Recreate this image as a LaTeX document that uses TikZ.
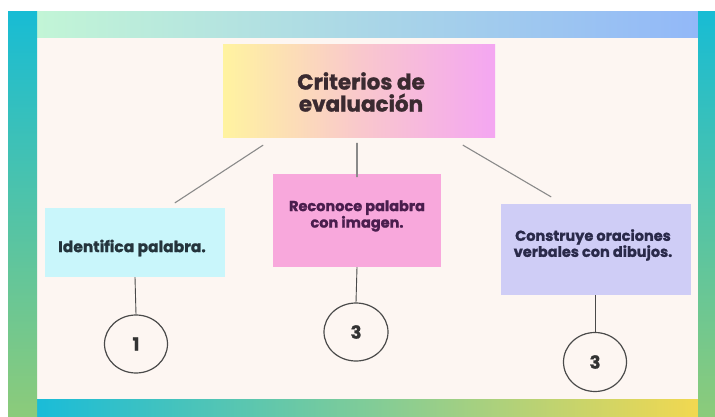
\documentclass[tikz,border=0pt]{standalone}
\usepackage{fontspec}
\setmainfont{Poppins}[BoldFeatures={FakeBold=1.3}]
\usetikzlibrary{calc,shapes.geometric}
\definecolor{cream}{HTML}{FDF6F2}
\definecolor{topL}{HTML}{C2F5D6}
\definecolor{topR}{HTML}{92B8F8}
\definecolor{bordT}{HTML}{18BCD4}
\definecolor{bordB}{HTML}{8CCB7A}
\definecolor{botL}{HTML}{1ABCD8}
\definecolor{botM}{HTML}{80CC98}
\definecolor{botR}{HTML}{F2D850}
\definecolor{critL}{HTML}{FFF3A0}
\definecolor{critM}{HTML}{F9C8CC}
\definecolor{critR}{HTML}{F4A6F2}
\definecolor{idfill}{HTML}{C9F6FB}
\definecolor{recfill}{HTML}{F8A8DC}
\definecolor{confill}{HTML}{CFCDF6}
\definecolor{critT}{HTML}{3A2A30}
\definecolor{idT}{HTML}{24343C}
\definecolor{recT}{HTML}{4A1E4E}
\definecolor{conT}{HTML}{2A2A4A}
\definecolor{linkC}{HTML}{8A8A8A}
\definecolor{circC}{HTML}{4A4A4A}
\tikzset{
  box/.style={rectangle, inner sep=0pt},
  link/.style={draw=linkC, line width=1.1pt, line cap=round},
  stem/.style={draw=circC, line width=0.9pt},
  num/.style={ellipse, draw=circC, line width=1.2pt, inner sep=0pt, font=\bfseries\fontsize{18}{18}\selectfont, text=black!80},
  lbl/.style={align=center, font=\bfseries}
}
\begin{document}
\begin{tikzpicture}[x=1pt,y=1pt]
\useasboundingbox (0,0) rectangle (715,416);
\fill[white] (0,0) rectangle (715,416);
% background and frame
\fill[cream] (37,17) rectangle (698,378);
\shade[left color=topL, right color=topR] (37,378) rectangle (698,404);
\shade[left color=botL, right color=botR, middle color=botM] (37,0) rectangle (698,17);
\shade[top color=bordT, bottom color=bordB] (8,0) rectangle (37,404);
\shade[top color=bordT, bottom color=bordB] (698,0) rectangle (715,404);
% boxes
\node[box, minimum width=272, minimum height=92, left color=critL, right color=critR, middle color=critM] (crit) at (359,325) {};
\node[lbl, text=critT, font=\bfseries\fontsize{21.5}{22}\selectfont] (critt) at (361,324) {Criterios de\\evaluación};
\node[box, fill=idfill, minimum width=180, minimum height=69] (id) at (135,173.5) {};
\node[lbl, text=idT, font=\bfseries\fontsize{15.5}{15}\selectfont] (idt) at (132,168) {Identifica palabra.};
\node[box, fill=recfill, minimum width=168, minimum height=93] (rec) at (357,195.5) {};
\node[lbl, text=recT, font=\bfseries\fontsize{14.5}{15}\selectfont] (rect) at (357,200) {Reconoce palabra\\con imagen.};
\node[box, fill=confill, minimum width=190, minimum height=91] (con) at (596,166.5) {};
\node[lbl, text=conT, font=\bfseries\fontsize{14.5}{16}\selectfont] (cont) at (593,171) {Construye oraciones\\verbales con dibujos.};
% circles
\node[num, minimum width=63, minimum height=58] (c1) at (136,72) {1};
\node[num, minimum width=64, minimum height=58] (c2) at (356,84) {3};
\node[num, minimum width=63, minimum height=59] (c3) at (595,54) {3};
% connectors
\draw[link] ($(crit.south)+(-96,-8)$) -- ($(id.north)+(40,5)$);
\draw[link] ($(crit.south)+(-2,-6)$) -- ($(rec.north)+(0,-3)$);
\draw[link] ($(crit.south)+(104,-8)$) -- ($(con.north)+(-45,7)$);
\draw[stem] (id.south) -- (c1.north);
\draw[stem] (rec.south) -- (c2.north);
\draw[stem] (con.south -| c3.north) -- (c3.north);
\end{tikzpicture}
\end{document}
